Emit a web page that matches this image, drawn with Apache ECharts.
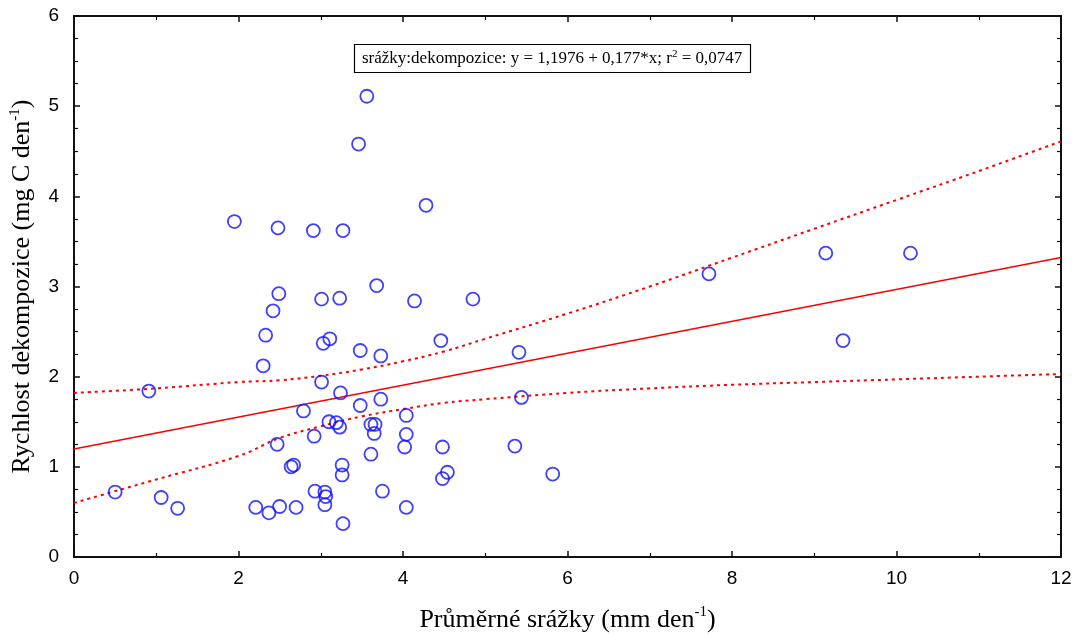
<!DOCTYPE html>
<html>
<head>
<meta charset="utf-8">
<script src="https://cdn.jsdelivr.net/npm/echarts@6/dist/echarts.min.js"></script>
<style>
html,body{margin:0;padding:0;background:#fff;}
#chart{width:1078px;height:636px;}
</style>
</head>
<body>
<div id="chart"></div>
<script>
// Measured points: precipitation (x) and decomposition rate (y)
const precip = [0.50,0.91,1.06,1.26,1.95,2.21,2.30,2.33,2.37,2.42,2.47,2.48,2.49,2.50,2.64,2.67,2.70,2.79,2.91,2.92,2.93,3.01,3.01,3.03,3.05,3.06,3.05,3.10,3.11,3.19,3.23,3.23,3.24,3.26,3.26,3.27,3.27,3.46,3.48,3.48,3.56,3.61,3.61,3.65,3.66,3.68,3.73,3.73,3.75,4.02,4.04,4.04,4.04,4.14,4.28,4.46,4.48,4.48,4.54,4.85,5.36,5.41,5.44,5.82,7.72,9.14,9.35,10.17];
const decomp = [0.72,1.84,0.66,0.54,3.72,0.55,2.12,2.46,0.49,2.73,1.25,3.65,2.92,0.56,1.00,1.02,0.55,1.62,3.62,1.34,0.73,2.86,1.94,2.37,0.72,0.67,0.58,1.50,2.42,1.49,2.87,1.44,1.82,1.02,0.91,3.62,0.37,4.58,2.29,1.68,5.11,1.47,1.14,1.37,1.47,3.01,2.23,1.75,0.73,1.22,1.57,1.36,0.55,2.84,3.90,2.40,1.22,0.87,0.94,2.86,1.23,2.27,1.77,0.92,3.14,3.37,2.40,3.37];

// Regression line endpoints (y = 1,1976 + 0,177*x)
const fitX = [0, 12];
const fitY = [1.1976, 3.3216];

// Confidence band
const bandX =     [0,    1,    2,    2.5,  3,    3.5,  4,    4.5,  5,    6,    7,    8,    9,    10,   11,   12];
const bandUpper = [1.82, 1.87, 1.94, 1.96, 2.01, 2.08, 2.17, 2.28, 2.42, 2.70, 3.00, 3.32, 3.64, 3.96, 4.28, 4.61];
const bandLower = [0.60, 0.86, 1.12, 1.32, 1.45, 1.56, 1.64, 1.71, 1.75, 1.82, 1.87, 1.91, 1.94, 1.97, 2.00, 2.03];

const xTicks = {min: 0, max: 12, interval: 2};
const yTicks = {min: 0, max: 6, interval: 1};

const infoText = 'srážky:dekompozice: y = 1,1976 + 0,177*x; r{sup|2} = 0,0747';
const xTitle = 'Průměrné srážky (mm den{sup|-1})';
const yTitle = 'Rychlost dekompozice (mg C den{sup|-1})';

const zip = (a, b) => a.map((v, i) => [v, b[i]]);

const axisLineStyle = {show: true, onZero: false, lineStyle: {color: '#111', width: 2}};
const serif = 'Liberation Serif';
const sans = 'Liberation Sans';
const nameRich = {sup: {fontFamily: serif, fontSize: 15, color: '#000', verticalAlign: 'top', lineHeight: 30}};

function xAx(pos, showLabel, name) {
  return {
    type: 'value', position: pos, min: xTicks.min, max: xTicks.max, interval: xTicks.interval,
    axisLine: axisLineStyle,
    axisTick: {show: true, inside: true, length: 6, lineStyle: {color: '#111', width: 1.5}},
    minorTick: {show: true, splitNumber: 2, length: 4, lineStyle: {color: '#111', width: 1.2}},
    splitLine: {show: false}, minorSplitLine: {show: false},
    axisLabel: {show: showLabel, fontFamily: sans, fontSize: 19, color: '#000', margin: 12},
    name: name || '', nameLocation: 'middle', nameGap: 48,
    nameTextStyle: {fontFamily: serif, fontSize: 26, color: '#000', lineHeight: 30, rich: nameRich}
  };
}
function yAx(pos, showLabel, name) {
  return {
    type: 'value', position: pos, min: yTicks.min, max: yTicks.max, interval: yTicks.interval,
    axisLine: axisLineStyle,
    axisTick: {show: true, inside: true, length: 6, lineStyle: {color: '#111', width: 1.5}},
    minorTick: {show: true, splitNumber: 4, length: 4, lineStyle: {color: '#111', width: 1.2}},
    splitLine: {show: false}, minorSplitLine: {show: false},
    axisLabel: {show: showLabel, fontFamily: sans, fontSize: 19, color: '#000', margin: 15},
    name: name || '', nameLocation: 'middle', nameGap: 27, nameRotate: 90,
    nameTextStyle: {fontFamily: serif, fontSize: 26, color: '#000', lineHeight: 30, rich: nameRich}
  };
}

const chart = echarts.init(document.getElementById('chart'), null, {renderer: 'canvas'});
chart.setOption({
  animation: false,
  backgroundColor: '#fff',
  grid: {left: 74, right: 17, top: 16, bottom: 79, containLabel: false, outerBoundsMode: 'none'},
  title: {
    text: infoText, left: 354, top: 44,
    borderColor: '#000', borderWidth: 1.2, padding: [5, 8, 4, 8],
    textStyle: {fontFamily: serif, fontSize: 17, fontWeight: 'normal', color: '#000', lineHeight: 20,
      rich: {sup: {fontFamily: serif, fontSize: 11, color: '#000', verticalAlign: 'top', lineHeight: 20}}}
  },
  xAxis: [xAx('bottom', true, xTitle), xAx('top', false)],
  yAxis: [yAx('left', true, yTitle), yAx('right', false)],
  series: [
    {type: 'line', xAxisIndex: 0, yAxisIndex: 0, data: zip(bandX, bandUpper),
     smooth: 0.4, showSymbol: false, lineStyle: {color: '#ff0000', width: 2, type: [3, 4]}, z: 2},
    {type: 'line', xAxisIndex: 0, yAxisIndex: 0, data: zip(bandX, bandLower),
     smooth: 0.4, showSymbol: false, lineStyle: {color: '#ff0000', width: 2, type: [3, 4]}, z: 2},
    {type: 'line', xAxisIndex: 0, yAxisIndex: 0, data: zip(fitX, fitY),
     showSymbol: false, lineStyle: {color: '#ff0000', width: 1.6}, z: 2},
    {type: 'scatter', xAxisIndex: 0, yAxisIndex: 0, data: zip(precip, decomp),
     symbol: 'circle', symbolSize: 13,
     itemStyle: {color: 'rgba(0,0,0,0)', borderColor: '#1010ff', borderWidth: 1.8}, z: 3}
  ]
});
</script>
</body>
</html>
